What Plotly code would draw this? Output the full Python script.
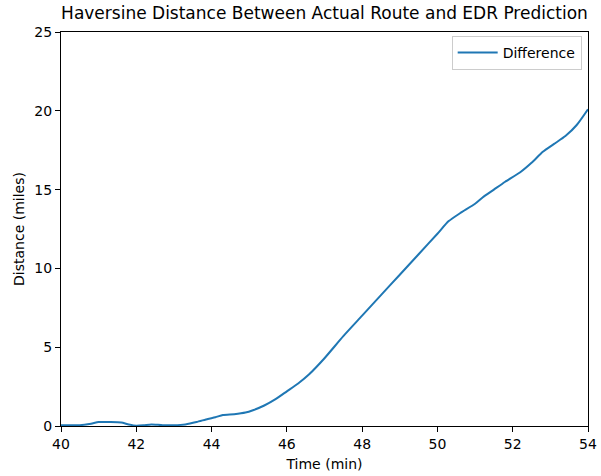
import plotly.graph_objects as go

time_min = [40.0, 40.5, 40.8, 41.0, 41.3, 41.6, 41.8, 42.0, 42.2, 42.4, 42.7, 43.0, 43.3, 43.6, 43.9, 44.1, 44.3, 44.6, 44.9, 45.1, 45.4, 45.7, 46.0, 46.3, 46.6, 47.0, 47.5, 48.0, 48.5, 49.0, 49.5, 50.0, 50.3, 50.6, 51.0, 51.2, 51.5, 51.8, 52.2, 52.5, 52.8, 53.1, 53.4, 53.7, 54.0]
distance = [0.05, 0.05, 0.15, 0.25, 0.25, 0.22, 0.1, 0.02, 0.05, 0.1, 0.05, 0.05, 0.1, 0.25, 0.45, 0.55, 0.7, 0.75, 0.85, 1.0, 1.3, 1.7, 2.2, 2.7, 3.3, 4.3, 5.7, 7.0, 8.3, 9.6, 10.9, 12.2, 13.0, 13.5, 14.1, 14.5, 15.0, 15.5, 16.1, 16.7, 17.4, 17.9, 18.4, 19.1, 20.1]

fig = go.Figure()
fig.add_trace(go.Scatter(x=time_min, y=distance, mode="lines", name="Difference",
                         line=dict(color="#1f77b4", width=2, shape="spline", smoothing=0.6)))

axis_common = dict(showline=True, linecolor="black", linewidth=1, mirror=True,
                   ticks="outside", ticklen=5, tickwidth=1, tickcolor="black",
                   showgrid=False, zeroline=False, automargin=False,
                   tickfont=dict(family="DejaVu Sans", size=14, color="black"))

fig.update_layout(
    width=601, height=476,
    margin=dict(l=61, r=13, t=32, b=50),
    paper_bgcolor="white", plot_bgcolor="white",
    font=dict(family="DejaVu Sans", color="black"),
    title=dict(text="Haversine Distance Between Actual Route and EDR Prediction",
               x=0.5, xanchor="center", xref="paper", y=0.985, yanchor="top",
               font=dict(family="DejaVu Sans", size=17, color="black")),
    xaxis=dict(range=[40, 54], tickvals=[40, 42, 44, 46, 48, 50, 52, 54],
               title=dict(text="Time (min)", font=dict(size=14), standoff=8), **axis_common),
    yaxis=dict(range=[0, 25], tickvals=[0, 5, 10, 15, 20, 25],
               title=dict(text="Distance (miles)", font=dict(size=14), standoff=6), **axis_common),
    showlegend=True,
    legend=dict(x=0.988, y=0.99, xanchor="right", yanchor="top", itemwidth=40,
                bordercolor="#cccccc", borderwidth=1, bgcolor="rgba(255,255,255,0.8)",
                font=dict(family="DejaVu Sans", size=14, color="black")),
)

fig.write_html("out.html")
